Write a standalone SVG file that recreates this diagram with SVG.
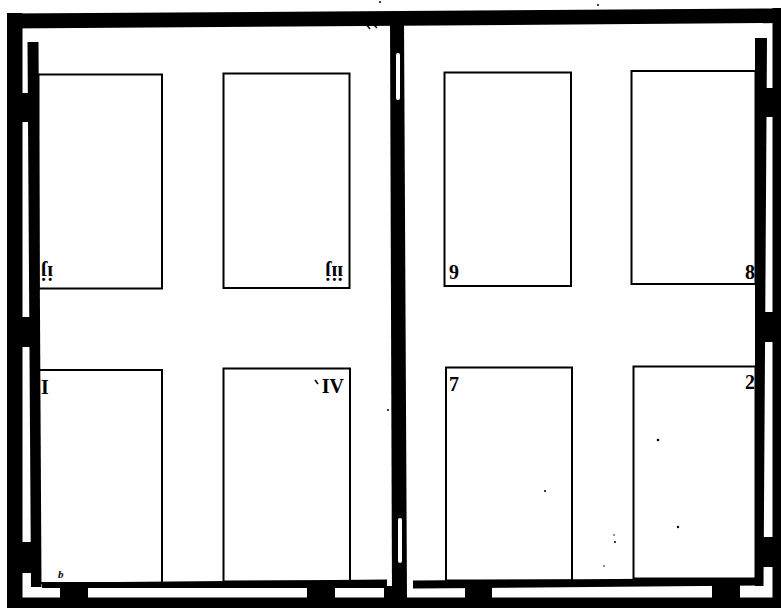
<svg xmlns="http://www.w3.org/2000/svg" width="781" height="608" viewBox="0 0 781 608">
<style>
.blk{fill:#000}
.wht{fill:#fff}
.page{fill:none;stroke:#000;stroke-width:2}
.lbl{font-family:"Liberation Serif","DejaVu Serif",serif;font-weight:bold;font-size:20px;fill:#000}
.it{font-family:"Liberation Serif","DejaVu Serif",serif;font-style:italic;font-weight:bold;font-size:11px;fill:#000}
</style>
<rect width="781" height="608" fill="#fff"/>
<g id="chase">
  <!-- outer frame -->
  <rect class="blk" x="7" y="13" width="15.5" height="600"/>
  <polygon class="blk" points="7,13.5 781,8.5 781,23 7,28.5"/>
  <rect class="blk" x="772.5" y="8" width="10" height="600"/>
  <rect class="blk" x="7" y="597.5" width="776" height="12"/>
  <!-- left inner column and bridges -->
  <polygon class="blk" points="27.5,42 38.5,42 41.5,587 31,587"/>
  <rect class="blk" x="20" y="93" width="14" height="29"/>
  <rect class="blk" x="20" y="317" width="15" height="30"/>
  <rect class="blk" x="20" y="542" width="16" height="31"/>
  <!-- right inner column and bridges -->
  <polygon class="blk" points="755,38 767,38 763.5,586 755,586"/>
  <rect class="blk" x="764" y="88" width="12" height="29"/>
  <rect class="blk" x="763" y="312" width="13" height="30"/>
  <rect class="blk" x="761" y="537" width="15" height="30"/>
  <!-- centre column -->
  <polygon class="blk" points="390,20 404,20 407,600 392,600"/>
  <rect class="wht" x="396" y="53" width="4" height="47" rx="2"/>
  <rect class="wht" x="398" y="518" width="4" height="45" rx="2"/>
  <!-- bottom rails -->
  <polygon class="blk" points="42,583 60,582.5 387,579.5 387,588 42,588"/>
  <rect class="blk" x="384" y="586" width="8" height="12"/>
  <polygon class="blk" points="413,580.5 757,578 757,585.5 413,588.5"/>
  <!-- blocks under rails -->
  <rect class="blk" x="60" y="586" width="28" height="13"/>
  <rect class="blk" x="307" y="586" width="28" height="13"/>
  <rect class="blk" x="465" y="586" width="27" height="13"/>
  <rect class="blk" x="712" y="584" width="28" height="15"/>
  <!-- printer's marks -->
  <path d="M366,24 L370,29 M373,24 L377,28" stroke="#000" stroke-width="1.5" fill="none"/>
  <circle cx="380" cy="2" r="1" class="blk"/>
  <circle cx="598" cy="5" r="1" class="blk"/>
  <circle cx="388" cy="410" r="1" class="blk"/>
  <circle cx="658" cy="440" r="1.3" class="blk"/>
  <circle cx="545" cy="491" r="1" class="blk"/>
  <circle cx="678" cy="527" r="1.2" class="blk"/>
  <circle cx="614" cy="535" r="0.8" class="blk"/>
  <circle cx="615" cy="542" r="1" class="blk"/>
  <circle cx="604" cy="566" r="0.8" class="blk"/>
</g>
<g id="page-ij">
  <rect class="page" x="38.5" y="74.5" width="123.5" height="214"/>
  <text class="lbl" text-anchor="middle" transform="translate(47,271) rotate(180)" x="0" y="4.8">ij</text>
</g>
<g id="page-iij">
  <rect class="page" x="223.5" y="73.5" width="126" height="214.5"/>
  <text class="lbl" text-anchor="middle" transform="translate(334,270.5) rotate(180)" x="0" y="4.8">iij</text>
</g>
<g id="page-9">
  <rect class="page" x="444.5" y="72.5" width="126.5" height="213.5"/>
  <text class="lbl" x="449" y="279">9</text>
</g>
<g id="page-8">
  <rect class="page" x="631.5" y="71" width="124" height="213"/>
  <text class="lbl" text-anchor="end" x="755" y="279">8</text>
</g>
<g id="page-I">
  <rect class="page" x="39" y="370" width="123" height="213"/>
  <text class="lbl" x="41" y="394">I</text>
</g>
<g id="page-IV">
  <rect class="page" x="223.5" y="368.5" width="126.5" height="213"/>
  <path d="M315,380 L318,384" stroke="#000" stroke-width="1.5"/>
  <text class="lbl" text-anchor="end" x="344" y="393">IV</text>
</g>
<g id="page-7">
  <rect class="page" x="446" y="367.5" width="126" height="213"/>
  <text class="lbl" x="449" y="391">7</text>
</g>
<g id="page-2">
  <rect class="page" x="633.5" y="366.5" width="122" height="212"/>
  <text class="lbl" text-anchor="end" x="755" y="389">2</text>
</g>
<g id="mark-b">
  <text class="it" x="58" y="578">b</text>
</g>
<g id="connectors"/>
</svg>
